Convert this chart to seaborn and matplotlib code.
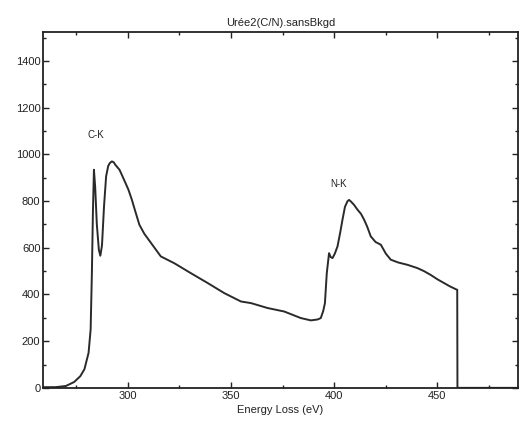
import matplotlib
matplotlib.use("Agg")
import matplotlib.pyplot as plt
from matplotlib.ticker import MultipleLocator
import seaborn as sns
import pandas as pd

# spectrum values
energy = [259, 265, 270, 274, 277, 279, 281, 282, 282.6, 283.1, 283.6, 284.2,
          285, 286, 286.7, 287.5, 288.5, 289.5, 290.5, 291.3, 292.3, 293.2,
          294, 296, 298, 300.3, 302, 303.5, 305.6, 308, 311.3, 316, 322.5,
          330.6, 338.7, 346.7, 354.8, 359.7, 367.7, 375.8, 383.8, 388.7, 392,
          393.5, 394.7, 395.5, 396.4, 397.5, 398.3, 399.2, 400.3, 401.6, 403,
          404, 405.2, 406.4, 407.2, 408, 409.5, 411.3, 413, 414.5, 416, 417.7,
          420, 422.6, 425, 427.4, 431, 435.5, 440.3, 443.5, 446.7, 450, 453.2,
          456, 458.8, 459.6, 459.7, 489]
counts = [3, 3, 8, 25, 50, 80, 150, 250, 490, 750, 934, 860,
          700, 590, 566, 610, 780, 906, 950, 963, 970, 966,
          955, 934, 895, 849, 805, 760, 699, 660, 620, 563, 534,
          491, 449, 406, 370, 363, 342, 327, 299, 289, 293,
          299, 330, 363, 491, 577, 560, 556, 575, 606, 670,
          720, 775, 799, 805, 799, 785, 763, 745, 720, 690, 649,
          625, 613, 575, 549, 537, 527, 513, 500, 484, 465, 449,
          435, 423, 420, 0, 0]

edge_labels = ["C-K", "N-K"]
edge_x = [284.7, 402.3]
edge_y = [1081, 872]

df = pd.DataFrame({"Energy Loss (eV)": energy, "Counts": counts})

sns.set_style("ticks")
plt.rcParams["font.family"] = ["Liberation Sans", "DejaVu Sans"]

fig = plt.figure(figsize=(5.2, 4.3), dpi=100)
ax = fig.add_axes([0.083, 0.098, 0.913, 0.828])
sns.lineplot(data=df, x="Energy Loss (eV)", y="Counts", estimator=None,
             sort=False, color="#2a2a2a", linewidth=1.4, ax=ax)

for lab, x, y in zip(edge_labels, edge_x, edge_y):
    ax.text(x, y, lab, ha="center", va="center", fontsize=7, color="#222222")

ax.set_xlim(259, 489)
ax.set_ylim(0, 1525)
ax.xaxis.set_major_locator(MultipleLocator(50))
ax.xaxis.set_minor_locator(MultipleLocator(25))
ax.yaxis.set_major_locator(MultipleLocator(200))
ax.yaxis.set_minor_locator(MultipleLocator(100))
ax.tick_params(which="both", direction="in", top=True, right=True,
               labelsize=8, colors="#222222", width=1)
ax.tick_params(which="major", length=4, pad=2)
ax.tick_params(which="minor", length=2.5)
for s in ax.spines.values():
    s.set_linewidth(1.3)
    s.set_color("#222222")

ax.set_xlabel("Energy Loss (eV)", fontsize=8, color="#222222", labelpad=3)
ax.set_ylabel("")
ax.set_title("Urée2(C/N).sansBkgd", fontsize=8, color="#222222", pad=4)

fig.savefig("out.png", dpi=100)
